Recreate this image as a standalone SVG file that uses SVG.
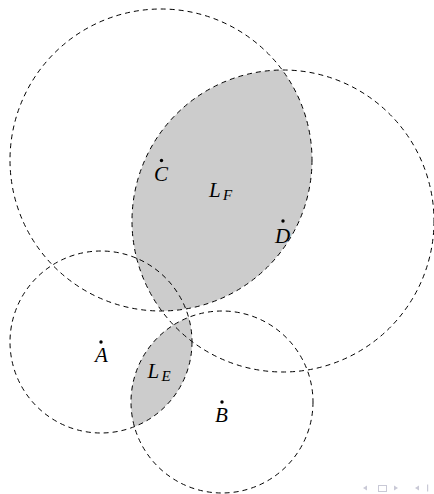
<svg xmlns="http://www.w3.org/2000/svg" width="434" height="494" viewBox="0 0 434 494">
<style>
.circ{fill:none;stroke:#000;stroke-width:1;stroke-dasharray:5 4}
.lens{fill:#cccccc;stroke:none}
.dot{fill:#000}
.lbl{font-family:"Liberation Serif",serif;font-style:italic;font-size:21px;fill:#000}
.sub{font-size:15px}
.nav{fill:#c9c9d6}
</style>
<rect width="434" height="494" fill="#fff"/>
<g id="lenses">
<path id="LF-region" class="lens" d="M282.2,70 A151,151 0 0 0 161.8,311 A151,151 0 0 0 282.2,70 Z"/>
<path id="LE-region" class="lens" d="M188.6,317.35 A91,91 0 0 0 134.4,426.65 A91,91 0 0 0 188.6,317.35 Z"/>
</g>
<g id="connectors">
<circle id="circleC" class="circ" cx="161" cy="160" r="151"/>
<circle id="circleD" class="circ" cx="283" cy="221" r="151"/>
<circle id="circleA" class="circ" cx="101" cy="342" r="91"/>
<circle id="circleB" class="circ" cx="222" cy="402" r="91"/>
</g>
<g id="nodeC"><circle class="dot" cx="161.5" cy="160.5" r="1.7"/><text class="lbl" x="161" y="181" text-anchor="middle">C</text></g>
<g id="nodeD"><circle class="dot" cx="283" cy="221" r="1.7"/><text class="lbl" x="282.5" y="243" text-anchor="middle">D</text></g>
<g id="nodeA"><circle class="dot" cx="101" cy="342" r="1.7"/><text class="lbl" x="101.5" y="362" text-anchor="middle">A</text></g>
<g id="nodeB"><circle class="dot" cx="222" cy="402" r="1.7"/><text class="lbl" x="221.5" y="422" text-anchor="middle">B</text></g>
<g id="labelLF"><text class="lbl" x="209" y="196.5">L<tspan class="sub" x="223" y="200">F</tspan></text></g>
<g id="labelLE"><text class="lbl" x="147.5" y="378">L<tspan class="sub" x="161.5" y="381">E</tspan></text></g>
<g id="navigation">
<polygon class="nav" points="363,488 367,485.5 367,490.5"/>
<rect x="378.5" y="485.5" width="8" height="6" fill="none" stroke="#c9c9d6" stroke-width="1"/>
<polygon class="nav" points="398,488 394,485.5 394,490.5"/>
<polygon class="nav" points="415,488 419,485.5 419,490.5"/>
<rect class="nav" x="427" y="484.5" width="1.2" height="7"/>
</g>
</svg>
